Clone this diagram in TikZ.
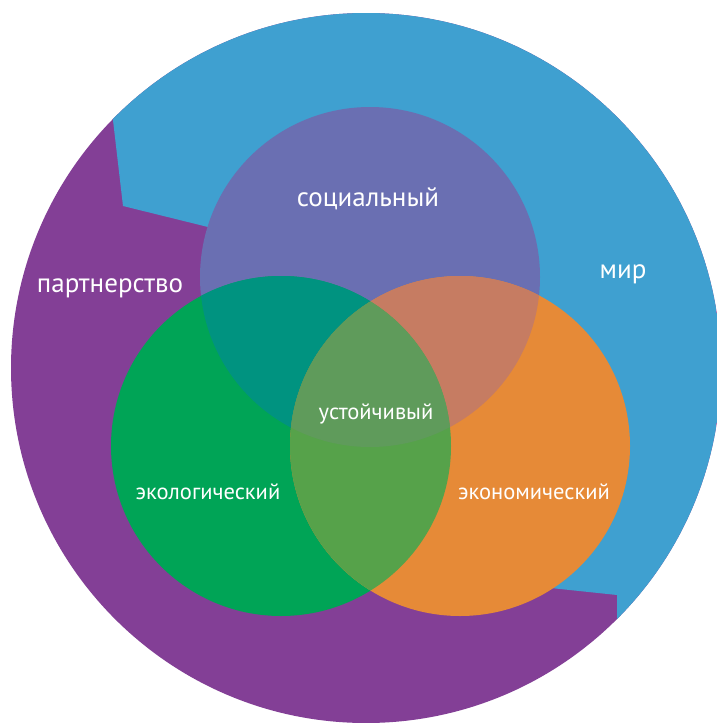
\documentclass[tikz,border=0pt]{standalone}
\usepackage{fontspec}
\setmainfont{PT Sans}
\usetikzlibrary{positioning}
\definecolor{mirblue}{RGB}{63,160,208}
\definecolor{partpurple}{RGB}{131,63,150}
\definecolor{soccol}{RGB}{106,111,178}
\definecolor{ecocol}{RGB}{0,164,86}
\definecolor{econcol}{RGB}{230,138,55}
\definecolor{soceco}{RGB}{0,147,128}
\definecolor{socecon}{RGB}{198,124,98}
\definecolor{ecoecon}{RGB}{86,162,74}
\definecolor{allcol}{RGB}{95,155,91}

\begin{document}
\begin{tikzpicture}[x=1pt, y=-1pt,
    venn/.style={circle, minimum size=340pt, inner sep=0pt},
    big/.style={text=white, anchor=base, font=\fontsize{27}{29}\selectfont},
    small/.style={text=white, anchor=base, font=\fontsize{22.5}{24}\selectfont}]

      \useasboundingbox (0,0) rectangle (716,723);

      % outer ring: partnership and peace
      \fill [partpurple] (366,368) circle (355pt);
      \begin{scope}
        \clip (366,368) circle (355pt);
        \fill [mirblue] (99,0) -- (800,0) -- (800,800) -- (617,800) -- (617,595)
          -- (560,589) -- (460,578) -- (370,267) -- (208,227) -- (123,206) -- cycle;
      \end{scope}

      % three circles
      \node [venn, fill=soccol] at (370,277) (soc) {};
      \node [venn, fill=ecocol] at (281,446) (eco) {};
      \node [venn, fill=econcol] at (460,446) (econ) {};

      % overlaps
      \begin{scope}
        \clip (soc.center) circle (170pt);
        \fill [soceco] (eco.center) circle (170pt);
        \fill [socecon] (econ.center) circle (170pt);
      \end{scope}
      \begin{scope}
        \clip (eco.center) circle (170pt);
        \fill [ecoecon] (econ.center) circle (170pt);
        \clip (econ.center) circle (170pt);
        \fill [allcol] (soc.center) circle (170pt);
      \end{scope}

      % labels
      \node [big] at (368,206) (soclbl) {социальный};
      \node [big] at (623,278) (mirlbl) {мир};
      \node [big] at (110,292) (partlbl) {партнерство};
      \node [small] at (376,419) (sustlbl) {устойчивый};
      \node [small] at (208,499) (ecolbl) {экологический};
      \node [small] at (534,499) (econlbl) {экономический};
    \end{tikzpicture}
\end{document}
